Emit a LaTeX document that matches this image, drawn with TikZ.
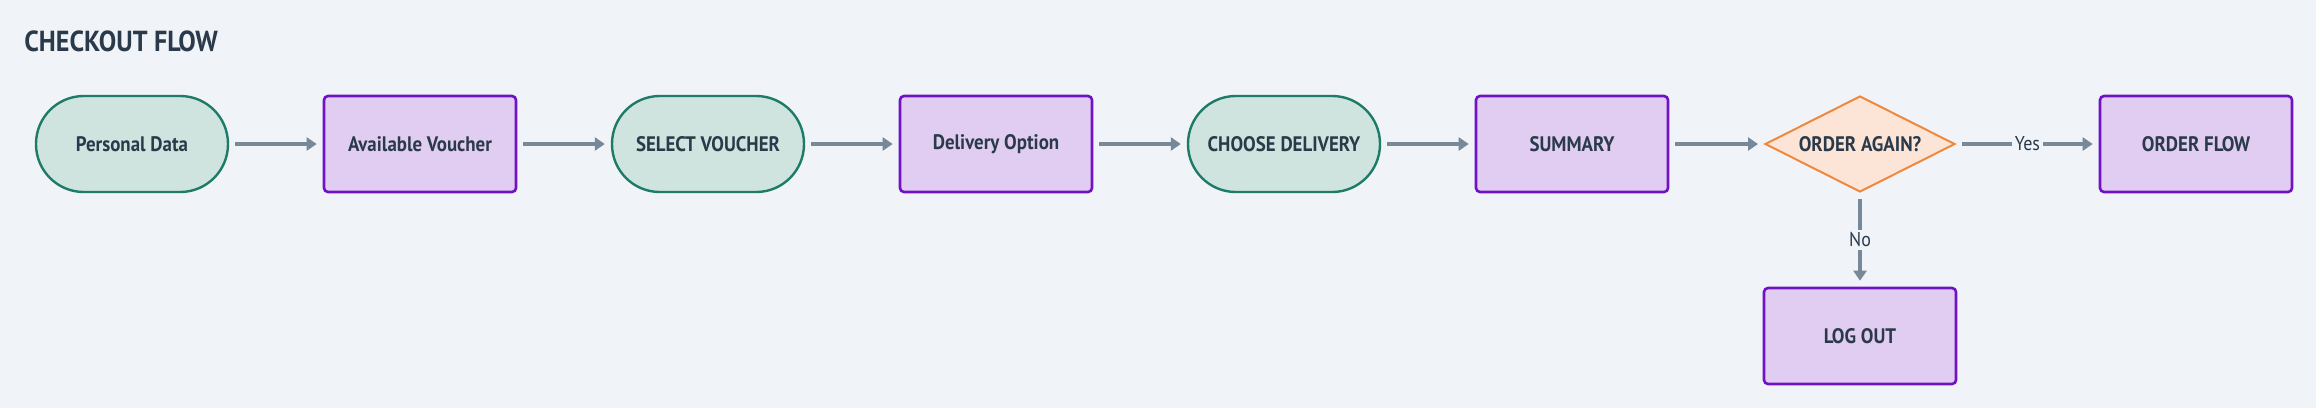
\documentclass[tikz,border=0pt]{standalone}
\usepackage{fontspec}
\setmainfont{PT Sans}[FakeStretch=0.9]
\usetikzlibrary{shapes.geometric,arrows.meta}
\definecolor{bg}{HTML}{F0F4F8}
\definecolor{txt}{HTML}{2B3A4A}
\definecolor{tealb}{HTML}{1E7B68}
\definecolor{tealf}{HTML}{D0E4DF}
\definecolor{purpb}{HTML}{7012C6}
\definecolor{purpf}{HTML}{E1CDF1}
\definecolor{orab}{HTML}{F0883E}
\definecolor{oraf}{HTML}{FCE4D6}
\definecolor{arr}{HTML}{778899}
\tikzset{
  base/.style={minimum width=96pt, minimum height=48pt, inner sep=0pt, text=txt,
    font=\bfseries\fontsize{10.5}{12}\selectfont},
  stadium/.style={base, rectangle, rounded corners=23.9pt, draw=tealb, fill=tealf, line width=1.2pt},
  pbox/.style={base, rectangle, rounded corners=2pt, draw=purpb, fill=purpf, line width=1.3pt},
  decide/.style={base, diamond, aspect=2, minimum width=95pt, minimum height=48pt, draw=orab, fill=oraf, line width=1pt},
  flow/.style={draw=arr, line width=1.6pt, -{Triangle[length=5pt,width=6.5pt]}, shorten >=3pt, shorten <=3pt},
  lbl/.style={fill=bg, inner sep=1.5pt, text=txt, font=\fontsize{10}{11}\selectfont}
}
\begin{document}
\begin{tikzpicture}[x=0.5pt,y=-0.5pt]
\useasboundingbox[fill=bg] (0,0) rectangle (2316,408);
\node[anchor=base west, inner sep=0pt, text=txt, font=\bfseries\fontsize{14.5}{17}\selectfont] (title) at (24,51) {CHECKOUT FLOW};
\node[stadium] (pd) at (132,144) {Personal Data};
\node[pbox] (av) at (420,144) {Available Voucher};
\node[stadium] (sv) at (708,144) {SELECT VOUCHER};
\node[pbox] (do) at (996,144) {Delivery Option};
\node[stadium] (cd) at (1284,144) {CHOOSE DELIVERY};
\node[pbox] (sm) at (1572,144) {SUMMARY};
\node[decide] (oa) at (1860,144) {ORDER AGAIN?};
\node[pbox] (of) at (2196,144) {ORDER FLOW};
\node[pbox] (lo) at (1860,336) {LOG OUT};
\draw[flow] (pd) -- (av);
\draw[flow] (av) -- (sv);
\draw[flow] (sv) -- (do);
\draw[flow] (do) -- (cd);
\draw[flow] (cd) -- (sm);
\draw[flow] (sm) -- (oa);
\draw[flow] (oa) -- node[lbl] {Yes} (of);
\draw[flow] (oa) -- node[lbl] {No} (lo);
\end{tikzpicture}
\end{document}
